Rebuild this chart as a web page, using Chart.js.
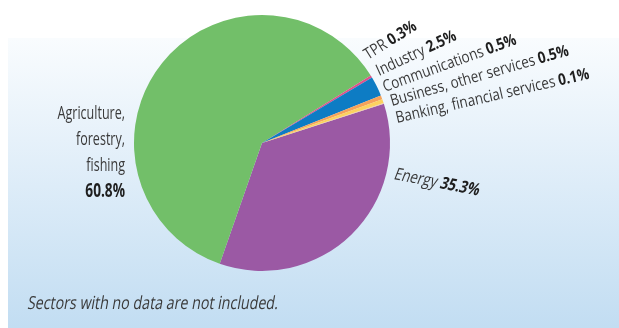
<!DOCTYPE html>
<html>
<head>
<meta charset="utf-8">
<script src="https://cdn.jsdelivr.net/npm/chart.js@4"></script>
<style>
  html, body { margin: 0; padding: 0; background: #ffffff; }
  #wrap { position: relative; width: 619px; height: 328px; }
  canvas { display: block; }
</style>
</head>
<body>
<div id="wrap"><canvas id="c" width="619" height="328"></canvas></div>
<script>
// Share of each sector (percent), in drawing order clockwise
const sectors = ['Energy', 'Agriculture, forestry, fishing', 'TPR', 'Industry',
                 'Communications', 'Business, other services', 'Banking, financial services'];
const shares  = [35.3, 60.8, 0.3, 2.5, 0.5, 0.5, 0.1];
const colours = ['#9b59a4', '#72bf69', '#e0508a', '#0d7cc4', '#f5a25a', '#fcd25e', '#f0c8a0'];
const footnote = 'Sectors with no data are not included.';

const FONT = '"Open Sans", "Noto Sans", sans-serif';

// Light panel with a vertical blue gradient behind the pie
const panelPlugin = {
  id: 'panel',
  beforeDraw(chart) {
    const ctx = chart.ctx;
    ctx.save();
    ctx.fillStyle = '#ffffff';
    ctx.fillRect(0, 0, chart.width, chart.height);
    const g = ctx.createLinearGradient(0, 38, 0, chart.height);
    g.addColorStop(0, '#f9fcfe');
    g.addColorStop(0.35, '#e6f1fa');
    g.addColorStop(1, '#c2ddf2');
    ctx.fillStyle = g;
    ctx.fillRect(8, 38, chart.width - 8, chart.height - 38);
    ctx.restore();
  }
};

// Draws a run of text parts (normal + bold) with horizontal condensing
function drawParts(ctx, parts, x, y, angleDeg, size, squeeze, italic, align) {
  ctx.save();
  ctx.translate(x, y);
  ctx.rotate(angleDeg * Math.PI / 180);
  if (italic) ctx.transform(1, 0, -0.18, 1, 0, 0);
  ctx.scale(squeeze, 1);
  ctx.textBaseline = 'alphabetic';
  ctx.textAlign = 'left';
  let total = 0;
  const widths = parts.map(p => {
    ctx.font = (p.bold ? '700 ' : '400 ') + size + 'px ' + FONT;
    const w = ctx.measureText(p.text).width;
    total += w;
    return w;
  });
  let cx = align === 'right' ? -total : 0;
  parts.forEach((p, i) => {
    ctx.font = (p.bold ? '700 ' : '400 ') + size + 'px ' + FONT;
    ctx.fillStyle = p.bold ? '#1e1e1e' : '#3a3a3a';
    ctx.fillText(p.text, cx, 0);
    cx += widths[i];
  });
  ctx.restore();
}

const pct = v => v.toFixed(1) + '%';

// Sector labels set around the pie
const labelPlugin = {
  id: 'sectorLabels',
  afterDraw(chart) {
    const ctx = chart.ctx;
    // Agriculture, stacked to the left of the pie
    const agLines = ['Agriculture,', 'forestry,', 'fishing'];
    agLines.forEach((t, i) => drawParts(ctx, [{ text: t }], 125, 119 + i * 26, 0, 19, 0.66, false, 'right'));
    drawParts(ctx, [{ text: pct(shares[1]), bold: true }], 125, 197, 0, 19, 0.72, false, 'right');

    // Energy, below right
    drawParts(ctx, [{ text: 'Energy ' }, { text: pct(shares[0]), bold: true }], 393, 179, 11, 17, 0.8, true, 'left');

    // Small sectors, fanned out at the upper right
    const fan = [
      { i: 2, name: 'TPR ',                         x: 368, y: 60,  a: -32 },
      { i: 3, name: 'Industry ',                    x: 379, y: 76,  a: -25 },
      { i: 4, name: 'Communications ',              x: 385, y: 92,  a: -20 },
      { i: 5, name: 'Business, other services ',    x: 392, y: 106, a: -16 },
      { i: 6, name: 'Banking, financial services ', x: 397, y: 123, a: -13 }
    ];
    fan.forEach(f => drawParts(ctx, [{ text: f.name }, { text: pct(shares[f.i]), bold: true }],
                               f.x, f.y, f.a, 16, 0.84, false, 'left'));

    // Footnote
    ctx.save();
    drawParts(ctx, [{ text: footnote }], 27, 309, 0, 18, 0.79, true, 'left');
    ctx.restore();
  }
};

new Chart(document.getElementById('c'), {
  type: 'pie',
  data: {
    labels: sectors,
    datasets: [{
      data: shares,
      backgroundColor: colours,
      borderWidth: 0
    }]
  },
  options: {
    responsive: false,
    animation: false,
    rotation: 72.2,
    layout: { padding: { left: 134, right: 229, top: 15, bottom: 57 } },
    plugins: {
      legend: { display: false },
      tooltip: { enabled: false }
    }
  },
  plugins: [panelPlugin, labelPlugin]
});
</script>
</body>
</html>
